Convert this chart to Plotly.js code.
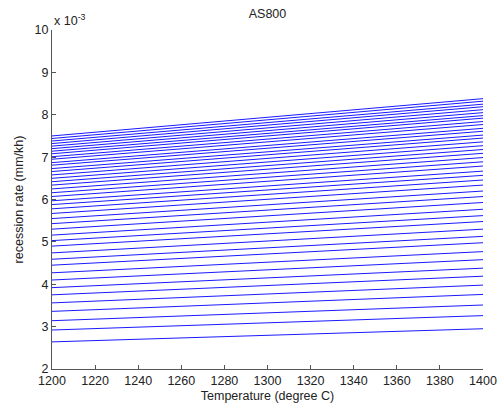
<!DOCTYPE html>
<html><head><meta charset="utf-8">
<script src="https://cdn.plot.ly/plotly-3.0.1.min.js"></script>
<style>html,body{margin:0;padding:0;background:#fff}</style>
</head><body><div id="chart" style="width:504px;height:411px"></div>
<script>
// Temperatures (degree C) at which each line is sampled
const temperatures = [1200, 1400];
// Recession rate (x 10^-3 mm/kh) at 1200 C, one per line (top to bottom)
const rateAt1200 = [7.50, 7.44, 7.38, 7.32, 7.26, 7.20, 7.14, 7.08, 7.01, 6.95,
  6.87, 6.81, 6.73, 6.66, 6.58, 6.50, 6.42, 6.34, 6.25, 6.16,
  6.07, 5.97, 5.88, 5.78, 5.67, 5.55, 5.43, 5.30, 5.16, 5.03,
  4.90, 4.74, 4.59, 4.45, 4.27, 4.10, 3.92, 3.75, 3.56, 3.36,
  3.14, 2.92, 2.64];
// Recession rate (x 10^-3 mm/kh) at 1400 C, one per line (top to bottom)
const rateAt1400 = [8.38, 8.32, 8.25, 8.19, 8.12, 8.05, 7.98, 7.92, 7.84, 7.77,
  7.68, 7.61, 7.52, 7.45, 7.36, 7.27, 7.18, 7.09, 6.99, 6.89,
  6.79, 6.67, 6.57, 6.46, 6.34, 6.20, 6.07, 5.93, 5.77, 5.62,
  5.48, 5.30, 5.13, 4.98, 4.77, 4.58, 4.38, 4.19, 3.98, 3.76,
  3.51, 3.26, 2.95];
const xTicks = [1200,1220,1240,1260,1280,1300,1320,1340,1360,1380,1400];
const yTicks = [2,3,4,5,6,7,8,9,10];

const traces = rateAt1200.map((v, i) => ({
  x: temperatures, y: [v, rateAt1400[i]], type: 'scatter', mode: 'lines',
  line: {color: '#1a1aff', width: 1}, showlegend: false, hoverinfo: 'skip'
}));

const font = {family: '"Liberation Sans", Arial, sans-serif', size: 12.5, color: '#222'};
const axisCommon = {
  showline: true, linecolor: '#555', linewidth: 1, mirror: false,
  ticks: 'inside', ticklen: 4, tickcolor: '#555', tickwidth: 1,
  showgrid: false, zeroline: false, tickfont: font
};
const layout = {
  width: 504, height: 411,
  margin: {l: 52, r: 21, t: 30, b: 42},
  paper_bgcolor: '#fff', plot_bgcolor: '#fff',
  font: font,
  title: {text: 'AS800', font: font, x: 0.5, xref: 'paper', y: 0.968, yref: 'container', yanchor: 'middle'},
  xaxis: Object.assign({}, axisCommon, {
    range: [1200, 1400], tickmode: 'array', tickvals: xTicks, ticktext: xTicks.map(String),
    title: {text: 'Temperature (degree C)', font: font, standoff: 4}
  }),
  yaxis: Object.assign({}, axisCommon, {
    range: [2, 10], tickmode: 'array', tickvals: yTicks, ticktext: yTicks.map(String),
    title: {text: 'recession rate (mm/kh)', font: font, standoff: 8}
  }),
  annotations: [{
    text: 'x 10<sup>-3</sup>', xref: 'paper', yref: 'paper', x: 0, y: 1,
    xanchor: 'left', yanchor: 'bottom', yshift: 0, showarrow: false, font: font
  }]
};
Plotly.newPlot('chart', traces, layout, {staticPlot: true, displayModeBar: false});
</script>
</body></html>
